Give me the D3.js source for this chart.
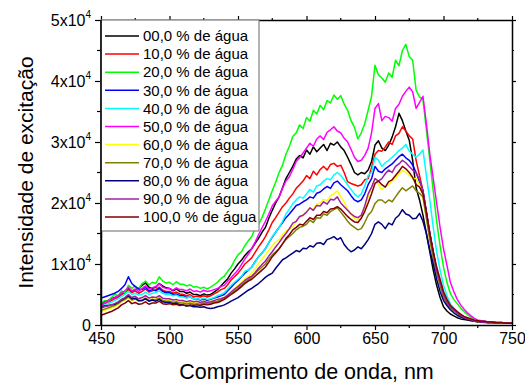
<!DOCTYPE html>
<html>
<head>
<meta charset="utf-8">
<script src="https://cdn.jsdelivr.net/npm/d3@7"></script>
<style>
  body { margin: 0; background: #fff; }
  svg { font-family: Arial, "Liberation Sans", sans-serif; }
</style>
</head>
<body>
<svg id="chart" width="525" height="383"></svg>
<script>
// wavelength grid, 2.5 nm steps (450..750)
const wavelengths = d3.range(121).map(i => 450 + 2.5 * i);

// intensities in units of 10^3 counts
const s00 = [3.5,3.8,4.0,4.3, 4.5,4.7,5.0,5.4, 6.0,5.5,5.8,6.0, 6.5,6.9,6.2,6.0, 6.2,6.8,6.4,6.1, 6.0,5.6,5.9,5.5, 5.5,5.2,5.4,5.0, 5.0,4.8,5.1,4.9, 5.0,5.4,5.8,6.4, 7.0,7.6,8.5,9.2, 10.0,10.6,11.4,12.0, 12.5,13.4,14.2,15.2, 16.0,17.5,18.8,20.0, 21.0,22.5,24.0,25.0, 26.0,27.2,27.8,27.4, 28.7,28.0,29.2,28.4, 29.0,29.6,28.6,29.8, 29.5,30.0,29.2,28.6, 27.5,26.3,25.0,24.6, 25.0,24.8,25.4,26.8, 29.5,30.2,29.0,28.6, 29.5,30.8,32.5,34.7, 33.5,31.8,30.3,27.0, 22.5,20.5,18.0,15.0, 12.0,9.0,6.5,4.5, 3.0,2.3,1.8,1.5, 1.2,1.0,0.9,0.8, 0.7,0.6,0.5,0.5, 0.4,0.4,0.4,0.3, 0.3,0.3,0.3,0.3, 0.3];
const s10 = [3.2,3.5,3.7,4.0, 4.3,4.5,5.0,5.3, 5.8,5.3,5.6,5.2, 5.5,5.9,5.4,5.6, 5.8,6.2,5.7,5.5, 5.5,5.2,5.4,5.1, 5.0,4.8,5.0,4.6, 4.7,4.6,4.8,4.6, 4.8,5.1,5.4,5.8, 6.0,6.6,7.4,7.9, 8.5,9.2,10.0,10.5, 11.0,11.9,12.8,13.6, 14.5,15.6,16.8,17.6, 18.5,19.4,20.0,20.8, 21.5,22.4,23.0,23.6, 24.5,24.0,25.2,24.6, 25.5,26.0,25.4,26.3, 26.5,26.0,26.2,25.0, 23.5,23.2,23.0,22.8, 23.0,23.8,24.0,25.8, 28.0,28.6,28.5,29.2, 30.0,29.6,31.0,31.4, 32.5,31.8,31.0,30.5, 27.0,24.5,22.0,18.5, 15.0,12.0,9.0,7.0, 5.0,3.8,3.0,2.5, 2.0,1.6,1.2,1.0, 0.9,0.7,0.6,0.5, 0.5,0.4,0.4,0.4, 0.3,0.3,0.3,0.3, 0.3];
const s20 = [3.5,4.0,3.8,4.5, 5.0,4.8,5.6,5.3, 6.5,6.0,6.4,5.9, 6.8,7.2,6.6,7.0, 6.8,7.9,7.2,6.9, 7.0,6.6,7.1,6.7, 6.7,6.4,6.6,6.2, 6.3,6.0,6.2,5.9, 6.2,6.6,7.0,7.6, 8.0,8.8,9.5,10.6, 11.5,12.0,13.0,13.8, 14.5,15.8,16.5,17.6, 19.0,20.5,22.0,23.4, 25.0,26.2,28.0,29.3, 30.9,31.5,32.8,32.2, 34.0,33.4,35.2,34.6, 36.0,35.3,36.8,36.4, 37.7,37.0,37.6,36.2, 35.2,33.5,32.4,30.5, 31.5,33.0,35.2,37.5, 42.6,41.0,40.5,39.8, 41.3,40.6,43.4,42.5, 45.0,46.0,44.0,43.4, 38.5,37.4,37.0,32.0, 27.0,22.0,17.0,13.0, 9.5,7.0,5.2,4.2, 3.5,2.8,2.2,1.7, 1.3,1.0,0.8,0.7, 0.6,0.5,0.5,0.4, 0.4,0.4,0.3,0.3, 0.3];
const s30 = [4.4,4.6,4.8,5.0, 5.2,5.5,6.0,6.6, 7.9,6.8,6.3,5.9, 5.8,6.2,5.6,5.8, 5.6,6.0,5.5,5.3, 5.3,5.0,5.1,4.8, 4.8,4.5,4.6,4.3, 4.3,4.1,4.3,4.0, 4.2,4.4,4.6,4.8, 5.0,5.6,6.2,6.8, 7.3,7.9,8.5,9.0, 9.5,10.4,11.2,11.8, 12.5,13.5,14.4,15.2, 16.0,16.8,17.6,18.2, 18.9,19.6,19.8,20.2, 20.5,21.0,20.8,21.6, 21.8,22.3,22.7,22.4, 23.3,23.6,23.0,22.5, 22.0,21.2,20.5,20.2, 20.5,21.5,23.0,24.0, 26.0,25.2,25.0,25.6, 26.0,26.4,27.0,27.6, 28.0,27.4,27.0,26.2, 25.0,23.5,22.0,18.5, 15.0,12.0,9.0,7.0, 5.0,3.8,3.0,2.5, 2.0,1.6,1.2,1.0, 0.8,0.7,0.6,0.5, 0.5,0.4,0.4,0.4, 0.3,0.3,0.3,0.3, 0.3];
const s40 = [3.0,3.3,3.5,3.7, 4.0,4.3,4.7,5.0, 5.5,5.0,5.2,4.9, 5.0,5.4,5.0,5.2, 5.3,5.6,5.2,5.0, 5.0,4.8,4.9,4.6, 4.6,4.4,4.6,4.3, 4.3,4.2,4.4,4.2, 4.3,4.5,4.8,5.0, 5.3,5.9,6.5,7.0, 7.5,8.0,8.8,9.0, 9.5,10.3,11.2,11.8, 12.5,13.5,14.5,15.2, 16.0,17.0,18.2,19.0, 19.9,20.5,21.0,20.8, 21.5,22.2,21.8,22.8, 23.0,23.6,24.0,23.8, 24.6,25.0,24.5,23.8, 23.0,22.2,21.5,21.0, 21.5,22.8,24.5,25.0, 27.5,27.0,26.0,26.6, 27.0,27.5,28.0,28.6, 29.0,29.6,28.5,28.0, 27.5,28.0,28.7,24.5, 20.5,16.0,12.0,9.0, 6.5,4.8,3.5,2.8, 2.2,1.7,1.3,1.1, 0.9,0.7,0.6,0.5, 0.5,0.4,0.4,0.4, 0.3,0.3,0.3,0.3, 0.3];
const s50 = [3.3,3.6,3.9,4.2, 4.5,4.8,5.3,5.6, 6.2,5.6,5.9,5.5, 6.0,6.4,5.9,6.1, 6.3,6.8,6.2,6.0, 6.0,5.7,6.1,5.8, 5.8,5.6,5.9,5.5, 5.6,5.4,5.7,5.5, 5.6,5.8,6.0,6.3, 6.5,7.2,7.8,8.4, 9.0,9.9,10.8,11.6, 12.5,13.6,14.8,15.9, 17.0,18.2,19.5,20.3, 21.0,22.4,23.6,24.3, 25.5,26.8,27.4,28.2, 29.0,29.8,29.3,30.5, 31.0,30.4,31.6,32.0, 32.5,31.8,31.5,30.6, 30.0,28.8,27.5,26.8, 27.0,27.8,29.0,31.5, 35.5,36.3,33.5,34.2, 34.0,33.4,35.5,36.2, 37.5,38.3,39.0,38.2, 35.5,36.5,37.5,33.0, 28.0,24.0,20.0,16.0, 12.5,9.8,7.0,5.5, 4.2,3.3,2.6,2.0, 1.5,1.1,0.8,0.7, 0.6,0.5,0.5,0.4, 0.4,0.4,0.3,0.3, 0.3];
const s60 = [2.2,2.4,2.6,2.8, 3.0,3.3,3.8,4.1, 4.5,4.0,4.3,4.0, 4.2,4.5,4.1,4.3, 4.2,4.5,4.1,4.0, 4.0,3.8,4.0,3.7, 3.8,3.6,3.8,3.7, 3.8,3.7,3.9,3.8, 3.9,4.0,4.2,4.3, 4.5,5.0,5.5,6.0, 6.5,7.0,7.6,8.0, 8.5,9.2,10.1,10.8, 11.5,12.2,13.0,13.6, 14.0,14.8,15.4,15.7, 16.1,17.0,17.6,18.0, 18.5,19.2,18.9,19.8, 20.0,20.6,20.4,21.2, 21.5,22.0,21.0,20.2, 19.0,18.2,17.5,17.2, 17.8,19.0,21.0,22.5, 24.0,23.0,22.2,22.8, 23.0,23.6,24.0,24.8, 25.4,25.0,24.5,24.0, 24.0,23.0,21.0,17.5, 14.0,11.0,8.5,6.5, 5.0,3.8,3.0,2.5, 2.0,1.6,1.2,1.0, 0.9,0.7,0.6,0.5, 0.5,0.4,0.4,0.4, 0.3,0.3,0.3,0.3, 0.3];
const s70 = [2.4,2.6,2.8,3.0, 3.2,3.5,3.9,4.2, 4.6,4.1,4.3,3.9, 4.0,4.4,4.0,4.2, 4.1,4.4,4.0,3.9, 3.9,3.7,3.8,3.6, 3.6,3.4,3.6,3.4, 3.5,3.4,3.6,3.5, 3.6,3.8,3.9,4.1, 4.3,4.7,5.2,5.6, 6.0,6.5,7.0,7.4, 7.8,8.4,9.0,9.5, 10.0,10.8,11.5,12.0, 12.5,13.3,14.0,14.5, 15.0,15.6,16.0,16.2, 16.5,17.2,16.8,17.6, 17.5,18.2,18.0,18.6, 18.9,19.2,18.5,17.8, 17.0,16.4,16.0,15.6, 15.8,16.8,18.0,18.6, 19.9,20.5,20.5,20.0, 20.5,20.2,21.0,21.8, 22.5,22.0,22.4,22.8, 22.0,21.6,21.0,17.5, 14.0,11.0,8.5,6.5, 4.5,3.5,2.8,2.3, 1.9,1.5,1.2,1.0, 0.9,0.7,0.6,0.5, 0.5,0.4,0.4,0.4, 0.3,0.3,0.3,0.3, 0.3];
const s80 = [3.0,3.1,3.2,3.3, 3.4,3.7,4.1,4.4, 4.8,4.3,4.4,4.0, 4.0,4.3,3.9,4.1, 3.9,4.2,3.8,3.7, 3.7,3.5,3.6,3.3, 3.3,3.1,3.2,3.0, 3.0,2.9,3.0,2.8, 2.7,2.8,3.0,3.1, 3.3,3.6,3.9,4.2, 4.5,4.9,5.3,5.7, 6.0,6.4,6.8,7.3, 7.8,8.2,8.5,9.3, 10.0,10.7,11.0,11.4, 11.8,12.2,12.0,12.6, 12.5,13.0,12.8,13.4, 13.5,13.2,14.0,14.2, 14.5,14.0,14.3,13.2, 12.5,12.0,12.3,12.8, 12.5,13.2,14.0,15.0, 16.5,16.9,16.5,15.8, 16.7,16.4,17.5,18.0, 18.9,18.2,18.0,17.4, 17.5,18.3,17.0,15.0, 12.3,10.0,7.5,5.5, 4.0,3.2,2.5,2.0, 1.6,1.3,1.1,0.9, 0.8,0.7,0.6,0.5, 0.5,0.4,0.4,0.4, 0.3,0.3,0.3,0.3, 0.3];
const s90 = [2.8,3.0,3.1,3.3, 3.5,3.8,4.2,4.5, 5.0,4.5,4.7,4.3, 4.5,4.8,4.4,4.6, 4.5,4.8,4.4,4.3, 4.3,4.1,4.2,4.0, 4.0,3.8,4.0,3.8, 3.9,3.7,3.9,3.7, 3.8,4.0,4.2,4.3, 4.5,4.9,5.4,5.9, 6.3,6.8,7.3,7.7, 8.0,8.6,9.3,9.9, 10.5,11.3,12.0,12.8, 13.5,14.3,15.0,15.8, 16.7,17.0,17.8,18.0, 18.5,19.2,18.8,19.6, 19.5,20.2,19.8,20.6, 20.5,21.0,20.0,19.4, 18.8,18.2,17.8,17.6, 18.0,19.5,21.5,22.6, 24.0,23.6,24.0,24.8, 25.4,25.0,26.0,26.4, 27.0,26.6,26.0,25.4, 25.0,23.8,22.0,18.5, 15.0,12.0,9.0,7.0, 5.0,3.8,3.0,2.5, 2.0,1.6,1.2,1.0, 0.9,0.7,0.6,0.5, 0.5,0.4,0.4,0.4, 0.3,0.3,0.3,0.3, 0.3];
const s100 = [1.6,1.8,2.0,2.2, 2.5,2.8,3.3,3.6, 4.0,3.5,3.7,3.4, 3.5,3.8,3.4,3.6, 3.6,3.9,3.5,3.4, 3.5,3.3,3.4,3.2, 3.3,3.1,3.3,3.2, 3.3,3.2,3.4,3.3, 3.4,3.6,3.7,3.9, 4.2,4.6,5.0,5.4, 5.8,6.3,6.8,7.2, 7.5,8.0,8.5,9.0, 9.5,10.3,11.2,11.8, 12.5,13.3,14.2,14.8, 15.6,16.0,16.5,16.4, 17.0,17.6,17.3,18.0, 18.0,18.6,18.4,19.0, 19.1,19.4,19.0,18.4, 17.8,17.3,16.9,16.8, 17.5,18.6,20.0,21.5, 23.2,23.6,23.0,22.6, 23.5,23.8,24.5,25.2, 26.0,25.6,25.0,24.2, 23.0,22.6,21.5,18.5, 15.0,12.0,9.5,7.5, 5.5,4.2,3.2,2.7, 2.2,1.8,1.4,1.2, 1.0,0.8,0.7,0.6, 0.6,0.5,0.5,0.4, 0.4,0.4,0.3,0.3, 0.3];

const seriesValues = [s00, s10, s20, s30, s40, s50, s60, s70, s80, s90, s100];
const seriesNames = ["00,0 % de água", "10,0 % de água", "20,0 % de água", "30,0 % de água",
  "40,0 % de água", "50,0 % de água", "60,0 % de água", "70,0 % de água",
  "80,0 % de água", "90,0 % de água", "100,0 % de água"];
const seriesColors = ["#000000", "#ff0000", "#00ff00", "#0000ff", "#00ffff", "#ff00ff",
  "#ffff00", "#808000", "#000080", "#a020a0", "#800000"];

const xTicks = [450, 500, 550, 600, 650, 700, 750];
const yTicks = [0, 10, 20, 30, 40, 50];
const yTickMant = ["0", "1x10", "2x10", "3x10", "4x10", "5x10"];

const margin = { top: 20, right: 13, bottom: 58, left: 101 };
const width = 525, height = 383;
const iw = width - margin.left - margin.right;
const ih = height - margin.top - margin.bottom;

const svg = d3.select("#chart");
const g = svg.append("g").attr("transform", `translate(${margin.left},${margin.top})`);

const x = d3.scaleLinear().domain([450, 750]).range([0, iw]);
const y = d3.scaleLinear().domain([0, 50]).range([ih, 0]);

// curves
const line = d3.line().x((d, i) => x(wavelengths[i])).y(d => y(d));
g.append("clipPath").attr("id", "clip").append("rect").attr("width", iw).attr("height", ih);
const curves = g.append("g").attr("clip-path", "url(#clip)");
seriesValues.forEach((vals, k) => {
  curves.append("path")
    .datum(vals)
    .attr("fill", "none")
    .attr("stroke", seriesColors[k])
    .attr("stroke-width", 1.5)
    .attr("stroke-linejoin", "round")
    .attr("d", line);
});

// axes: ticks outward on all four sides
const minorX = d3.range(475, 750, 50);
const minorY = d3.range(5, 50, 10);

const axBottom = g.append("g").attr("transform", `translate(0,${ih})`)
  .call(d3.axisBottom(x).tickValues(xTicks).tickSize(5).tickSizeOuter(0).tickPadding(3));
axBottom.selectAll("text").attr("font-size", 16).attr("fill", "#000");
axBottom.selectAll(".minor").data(minorX).join("line").attr("class", "minor")
  .attr("x1", d => x(d)).attr("x2", d => x(d)).attr("y1", 0).attr("y2", 3);

const axTop = g.append("g")
  .call(d3.axisTop(x).tickValues(xTicks).tickSize(4).tickSizeOuter(0).tickFormat(""));
axTop.selectAll(".minor").data(minorX).join("line").attr("class", "minor")
  .attr("x1", d => x(d)).attr("x2", d => x(d)).attr("y1", 0).attr("y2", -2);

const axLeft = g.append("g")
  .call(d3.axisLeft(y).tickValues(yTicks).tickSize(6).tickSizeOuter(0).tickFormat(""));
axLeft.selectAll(".minor").data(minorY).join("line").attr("class", "minor")
  .attr("x1", 0).attr("x2", -4).attr("y1", d => y(d)).attr("y2", d => y(d));

const axRight = g.append("g").attr("transform", `translate(${iw},0)`)
  .call(d3.axisRight(y).tickValues(yTicks).tickSize(4).tickSizeOuter(0).tickFormat(""));
axRight.selectAll(".minor").data(minorY).join("line").attr("class", "minor")
  .attr("x1", 0).attr("x2", 2).attr("y1", d => y(d)).attr("y2", d => y(d));

g.selectAll(".domain").attr("stroke", "#000").attr("stroke-width", 1.5);
g.selectAll(".tick line, .minor").attr("stroke", "#000").attr("stroke-width", 1.2);

// y tick labels with superscript exponent
const yLab = g.append("g").attr("font-size", 16).attr("text-anchor", "end");
yTicks.forEach((t, i) => {
  const txt = yLab.append("text").attr("x", -10).attr("y", y(t)).attr("dy", "0.35em");
  txt.append("tspan").text(yTickMant[i]);
  if (i > 0) {
    txt.append("tspan").attr("font-size", 10).attr("dy", "-0.75em").text("4");
  }
});

// legend
const legend = g.append("g");
legend.append("rect")
  .attr("x", 0).attr("y", 0).attr("width", 158).attr("height", 211)
  .attr("fill", "#fff").attr("stroke", "#808080").attr("stroke-width", 1.2);
seriesNames.forEach((name, k) => {
  const cy = 16 + k * 18.1;
  legend.append("line").attr("x1", 4).attr("x2", 38).attr("y1", cy).attr("y2", cy)
    .attr("stroke", seriesColors[k]).attr("stroke-width", 1.5);
  legend.append("text").attr("x", 42).attr("y", cy).attr("dy", "0.35em")
    .attr("font-size", 15).attr("fill", "#000").text(name);
});
g.append("line").attr("x1", 0).attr("x2", 0).attr("y1", 0).attr("y2", ih)
  .attr("stroke", "#000").attr("stroke-width", 1.5);

// axis titles
svg.append("text")
  .attr("x", margin.left + iw / 2).attr("y", 379)
  .attr("text-anchor", "middle").attr("font-size", 21.5)
  .text("Comprimento de onda, nm");
svg.append("text")
  .attr("transform", `translate(33,${margin.top + ih / 2}) rotate(-90)`)
  .attr("text-anchor", "middle").attr("font-size", 21)
  .text("Intensidade de excitação");
</script>
</body>
</html>
